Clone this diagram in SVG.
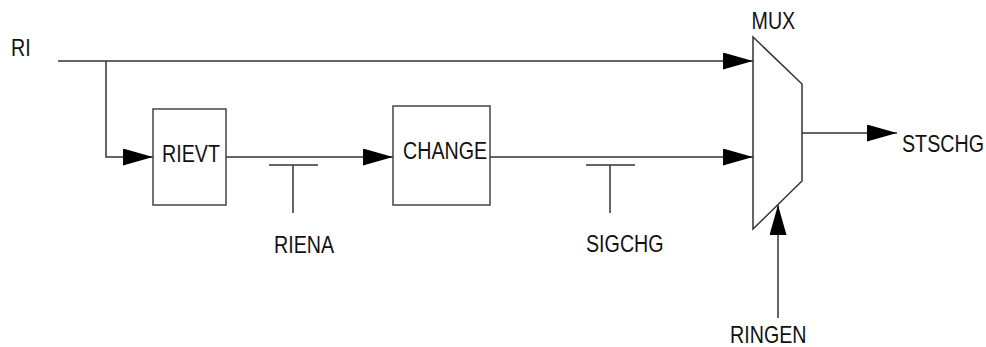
<svg xmlns="http://www.w3.org/2000/svg" width="986" height="347" viewBox="0 0 986 347">
<defs>
<style>
.ln{fill:none;stroke:#333;stroke-width:1.5}
.bx{fill:#fff;stroke:#444;stroke-width:1.5}
.mx{fill:none;stroke:#333;stroke-width:1.5}
.ah{fill:#000;stroke:none}
.t{font-family:"Liberation Sans",Arial,sans-serif;font-size:24px;fill:#111}
</style>
<marker id="arr" viewBox="0 0 30 17" refX="30" refY="8.5" markerWidth="30" markerHeight="17" markerUnits="userSpaceOnUse" orient="auto">
<path d="M0,0 L30,8.5 L0,17 Z" class="ah"/>
</marker>
</defs>
<rect width="986" height="347" fill="#fff"/>
<g id="connectors">
<line class="ln" x1="58" y1="61" x2="753" y2="61" marker-end="url(#arr)"/>
<polyline class="ln" points="106,61 106,157 153,157" marker-end="url(#arr)"/>
<line class="ln" x1="226" y1="157" x2="393" y2="157" marker-end="url(#arr)"/>
<line class="ln" x1="490" y1="157" x2="753" y2="157" marker-end="url(#arr)"/>
<line class="ln" x1="802" y1="133" x2="897" y2="133" marker-end="url(#arr)"/>
<line class="ln" x1="778" y1="318" x2="778" y2="205" marker-end="url(#arr)"/>
</g>
<g id="RI"><text class="t" transform="translate(11,56) scale(0.82,1)">RI</text></g>
<g id="RIEVT">
<rect class="bx" x="153" y="109" width="73" height="96"/>
<text class="t" transform="translate(162,162) scale(0.82,1)">RIEVT</text>
</g>
<g id="CHANGE">
<rect class="bx" x="393" y="106" width="97" height="99"/>
<text class="t" transform="translate(403,159) scale(0.82,1)">CHANGE</text>
</g>
<g id="RIENA">
<line class="ln" x1="269" y1="165" x2="318" y2="165"/>
<line class="ln" x1="293" y1="165" x2="293" y2="213"/>
<text class="t" transform="translate(274,253) scale(0.82,1)">RIENA</text>
</g>
<g id="SIGCHG">
<line class="ln" x1="586" y1="165" x2="635" y2="165"/>
<line class="ln" x1="610" y1="165" x2="610" y2="213"/>
<text class="t" transform="translate(586,252) scale(0.82,1)">SIGCHG</text>
</g>
<g id="MUX">
<polygon class="mx" points="753,37 802,84 802,181 753,229"/>
<text class="t" transform="translate(751.5,29) scale(0.82,1)">MUX</text>
</g>
<g id="STSCHG"><text class="t" transform="translate(902,152) scale(0.82,1)">STSCHG</text></g>
<g id="RINGEN"><text class="t" transform="translate(730,343) scale(0.82,1)">RINGEN</text></g>
</svg>
